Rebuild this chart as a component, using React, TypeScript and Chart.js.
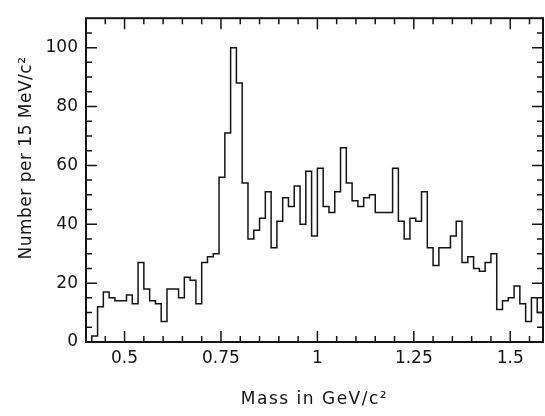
import React, { useEffect, useRef } from "react";
import { Chart, registerables } from "chart.js";

Chart.register(...registerables);

// Histogram: counts per 15 MeV/c² bin, first bin low edge at 0.415 GeV/c²
const BIN_START = 0.415;
const BIN_WIDTH = 0.015;
const COUNTS = [
  2, 12, 17, 15, 14, 14, 16, 13, 27, 18,
  14, 13, 7, 18, 18, 15, 22, 21, 13, 27,
  29, 30, 56, 71, 100, 88, 54, 35, 38, 42,
  51, 32, 41, 49, 46, 53, 40, 58, 36, 59,
  46, 44, 51, 66, 54, 48, 46, 49, 50, 44,
  44, 44, 59, 41, 35, 42, 41, 51, 32, 26,
  32, 32, 36, 41, 27, 29, 25, 24, 27, 30,
  11, 14, 15, 19, 13, 7, 15, 10,
];

const X_MIN = 0.4;
const X_MAX = 1.585;
const Y_MIN = 0;
const Y_MAX = 110;
const X_MAJOR = [0.5, 0.75, 1, 1.25, 1.5];
const X_TICK_LABELS = ["0.5", "0.75", "1", "1.25", "1.5"];
const X_MINOR_STEP = 0.05;
const Y_MAJOR = [0, 20, 40, 60, 80, 100];
const Y_TICK_LABELS = ["0", "20", "40", "60", "80", "100"];
const Y_MINOR_STEP = 5;
const X_TITLE = "Mass in GeV/c²";
const Y_TITLE = "Number per 15 MeV/c²";

const INK = "#141414";
const FONT = '"DejaVu Sans", sans-serif';

const isMajor = (list: number[], v: number) => list.some((m) => Math.abs(m - v) < 1e-6);

const framePlugin = {
  id: "frame",
  afterDraw(chart: any) {
    const { ctx, chartArea: a, scales } = chart;
    const xs = scales.x;
    const ys = scales.y;
    ctx.save();
    ctx.strokeStyle = INK;
    ctx.lineWidth = 1.5;
    ctx.beginPath();
    const majorLen = 11;
    const minorLen = 6;
    const nx = Math.round((X_MAX - X_MIN) / X_MINOR_STEP);
    for (let k = 1; k <= nx; k++) {
      const v = X_MIN + k * X_MINOR_STEP;
      if (v >= X_MAX - 1e-6) break;
      const px = xs.getPixelForValue(v);
      const len = isMajor(X_MAJOR, v) ? majorLen : minorLen;
      ctx.moveTo(px, a.bottom);
      ctx.lineTo(px, a.bottom - len);
      ctx.moveTo(px, a.top);
      ctx.lineTo(px, a.top + len);
    }
    const ny = Math.round((Y_MAX - Y_MIN) / Y_MINOR_STEP);
    for (let k = 1; k < ny; k++) {
      const v = Y_MIN + k * Y_MINOR_STEP;
      const py = ys.getPixelForValue(v);
      const len = isMajor(Y_MAJOR, v) ? majorLen : minorLen;
      ctx.moveTo(a.left, py);
      ctx.lineTo(a.left + len, py);
      ctx.moveTo(a.right, py);
      ctx.lineTo(a.right - len, py);
    }
    ctx.stroke();

    ctx.lineWidth = 2;
    ctx.strokeRect(a.left, a.top, a.right - a.left, a.bottom - a.top);

    ctx.fillStyle = INK;
    ctx.font = "17px " + FONT;
    ctx.textAlign = "center";
    ctx.textBaseline = "middle";
    (ctx as any).letterSpacing = "1.5px";
    ctx.fillText(X_TITLE, (a.left + a.right) / 2, 400);
    (ctx as any).letterSpacing = "0.5px";
    ctx.translate(27, 158);
    ctx.rotate(-Math.PI / 2);
    ctx.fillText(Y_TITLE, 0, 0);
    ctx.restore();
  },
};

export default function App() {
  const ref = useRef<HTMLCanvasElement | null>(null);

  useEffect(() => {
    if (!ref.current) return;
    const points: { x: number; y: number }[] = [{ x: BIN_START, y: 0 }];
    COUNTS.forEach((c, i) => points.push({ x: BIN_START + i * BIN_WIDTH, y: c }));
    points.push({ x: BIN_START + COUNTS.length * BIN_WIDTH, y: COUNTS[COUNTS.length - 1] });

    const chart = new Chart(ref.current, {
      type: "line",
      data: {
        datasets: [
          {
            data: points,
            stepped: true,
            borderColor: INK,
            borderWidth: 1.5,
            pointRadius: 0,
            fill: false,
          },
        ],
      },
      options: {
        animation: false,
        responsive: false,
        layout: { padding: { top: 4, right: 2, left: 0, bottom: 0 } },
        plugins: { legend: { display: false }, tooltip: { enabled: false } },
        scales: {
          x: {
            type: "linear",
            min: X_MIN,
            max: X_MAX,
            grid: { display: false, drawTicks: false },
            border: { display: false },
            afterBuildTicks: (s: any) => {
              s.ticks = X_MAJOR.map((v) => ({ value: v }));
            },
            afterFit: (s: any) => {
              s.height = 74;
            },
            ticks: {
              autoSkip: false,
              maxRotation: 0,
              padding: 6,
              color: INK,
              font: { family: FONT, size: 17 },
              callback: (_v: any, i: number) => X_TICK_LABELS[i],
            },
          },
          y: {
            type: "linear",
            min: Y_MIN,
            max: Y_MAX,
            grid: { display: false, drawTicks: false },
            border: { display: false },
            afterBuildTicks: (s: any) => {
              s.ticks = Y_MAJOR.map((v) => ({ value: v }));
            },
            afterFit: (s: any) => {
              s.width = 86;
            },
            ticks: {
              autoSkip: false,
              padding: 8,
              color: INK,
              font: { family: FONT, size: 17 },
              callback: (_v: any, i: number) => Y_TICK_LABELS[i],
            },
          },
        },
      },
      plugins: [framePlugin],
    });
    return () => chart.destroy();
  }, []);

  return (
    <div style={{ position: "fixed", left: 0, top: 0, width: 545, height: 416, background: "#fff" }}>
      <canvas ref={ref} width={545} height={416} style={{ display: "block" }} />
    </div>
  );
}
